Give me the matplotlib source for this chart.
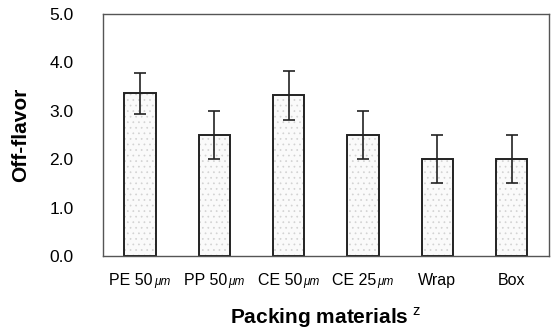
import matplotlib.pyplot as plt
from matplotlib.offsetbox import TextArea, HPacker, AnnotationBbox

plt.rcParams['font.family'] = ['Liberation Sans', 'DejaVu Sans']
plt.rcParams['mathtext.fontset'] = 'custom'
plt.rcParams['mathtext.rm'] = 'Liberation Sans'
plt.rcParams['hatch.linewidth'] = 0.5

# data
materials = ["PE 50", "PP 50", "CE 50", "CE 25", "Wrap", "Box"]
units = ["\u03bcm", "\u03bcm", "\u03bcm", "\u03bcm", "", ""]
off_flavor = [3.36, 2.5, 3.32, 2.5, 2.0, 2.0]
errors = [0.42, 0.5, 0.5, 0.5, 0.5, 0.5]
y_ticks = [0.0, 1.0, 2.0, 3.0, 4.0, 5.0]

fig = plt.figure(figsize=(5.56, 3.35), dpi=100)
ax = fig.add_axes([0.185, 0.236, 0.802, 0.722])

x = list(range(len(materials)))
# faint stipple fill (hatch takes the edge colour), then the dark outline
ax.bar(x, off_flavor, width=0.42, color='#fafafa', edgecolor='#d2d2d2',
       linewidth=0, hatch='...', zorder=2)
ax.bar(x, off_flavor, width=0.42, fill=False, edgecolor='#222222',
       linewidth=1.4, zorder=2)
ax.errorbar(x, off_flavor, yerr=errors, fmt='none', ecolor='#222222',
            elinewidth=1.2, capsize=4, capthick=1.2, zorder=3)

ax.set_xlim(-0.5, len(materials) - 0.5)
ax.set_ylim(0, 5)
ax.set_yticks(y_ticks)
ax.set_yticklabels(["%.1f" % t for t in y_ticks])
ax.set_xticks(x)
ax.set_xticklabels([])
ax.tick_params(axis='both', length=0)
ax.tick_params(axis='y', pad=21, labelsize=12.5)

# category labels: big name, small italic unit
for xi, name, unit in zip(x, materials, units):
    parts = [TextArea(name, textprops=dict(size=11.5))]
    if unit:
        parts.append(TextArea(unit, textprops=dict(size=8.5, style='italic')))
    box = HPacker(children=parts, align='baseline', pad=0, sep=1)
    ab = AnnotationBbox(box, (xi, 0), xycoords=('data', 'axes fraction'),
                        xybox=(0, -12), boxcoords='offset points',
                        box_alignment=(0.5, 1), frameon=False, pad=0)
    ax.add_artist(ab)

for s in ax.spines.values():
    s.set_color('#555555')
    s.set_linewidth(1.0)

ax.set_ylabel("Off-flavor", fontsize=15, fontweight='bold', labelpad=14)
ax.set_xlabel(r"Packing materials$^{\ \mathrm{z}}$", fontsize=15, fontweight='bold', labelpad=32)

fig.savefig("out.png", dpi=100)
